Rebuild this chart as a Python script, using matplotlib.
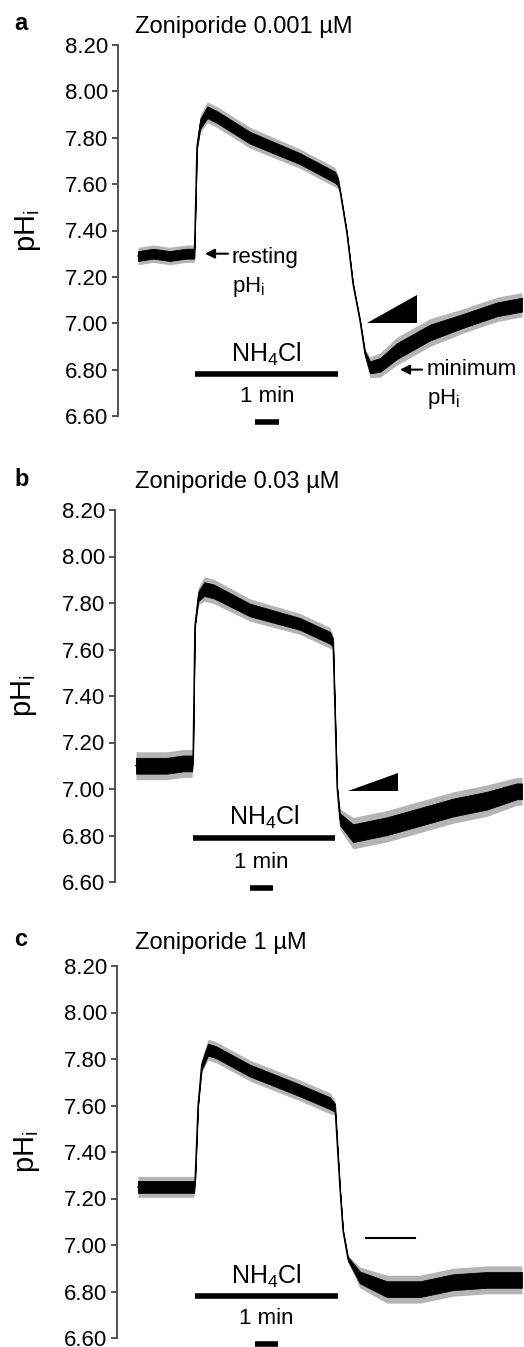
import numpy as np
import matplotlib.pyplot as plt

plt.rcParams['font.family'] = ['Liberation Sans', 'DejaVu Sans']
plt.rcParams['mathtext.fontset'] = 'custom'
plt.rcParams['mathtext.rm'] = 'Liberation Sans'
plt.rcParams['mathtext.it'] = 'Liberation Sans'

# traces: time (min), mid-line pH, half width of the noise band
a_t = [0.85, 1.5, 2.2, 2.9, 3.25, 3.30, 3.36, 3.50, 3.80, 4.20, 5.62, 7.74, 9.23, 9.36,
       9.45, 9.74, 10.0, 10.3, 10.51, 10.72, 11.15, 11.87, 13.28, 14.68, 16.13, 17.19]
a_ph = [7.29, 7.30, 7.29, 7.30, 7.30, 7.50, 7.76, 7.86, 7.91, 7.89, 7.80, 7.71, 7.63, 7.61,
        7.57, 7.39, 7.17, 7.01, 6.87, 6.81, 6.82, 6.88, 6.96, 7.01, 7.06, 7.08]
a_hw = [0.025, 0.025, 0.025, 0.025, 0.025, 0.004, 0.01, 0.025, 0.03, 0.03, 0.03, 0.028, 0.028, 0.02,
        0.006, 0.005, 0.005, 0.006, 0.012, 0.03, 0.035, 0.04, 0.04, 0.035, 0.035, 0.035]

b_t = [0.89, 1.5, 2.2, 2.9, 3.28, 3.32, 3.40, 3.55, 3.80, 4.20, 5.74, 7.87, 9.15, 9.28,
       9.45, 9.57, 10.13, 11.57, 12.98, 14.38, 15.83, 17.10, 17.32]
b_ph = [7.10, 7.10, 7.10, 7.11, 7.11, 7.12, 7.70, 7.83, 7.86, 7.85, 7.77, 7.71, 7.65, 7.63,
        7.01, 6.87, 6.81, 6.84, 6.88, 6.92, 6.95, 6.99, 6.99]
b_hw = [0.04, 0.04, 0.04, 0.04, 0.04, 0.005, 0.005, 0.025, 0.035, 0.035, 0.032, 0.03, 0.03, 0.02,
        0.005, 0.03, 0.045, 0.045, 0.045, 0.045, 0.045, 0.04, 0.04]

c_t = [0.89, 1.5, 2.2, 2.9, 3.28, 3.32, 3.45, 3.60, 3.87, 4.20, 5.66, 7.66, 9.06, 9.28,
       9.49, 9.62, 9.83, 10.34, 11.49, 12.89, 14.30, 15.74, 17.23]
c_ph = [7.25, 7.25, 7.25, 7.25, 7.25, 7.27, 7.60, 7.77, 7.84, 7.83, 7.75, 7.67, 7.61, 7.59,
        7.24, 7.06, 6.94, 6.86, 6.81, 6.81, 6.84, 6.85, 6.85]
c_hw = [0.03, 0.03, 0.03, 0.03, 0.03, 0.005, 0.005, 0.02, 0.03, 0.03, 0.03, 0.03, 0.03, 0.02,
        0.005, 0.005, 0.01, 0.03, 0.04, 0.04, 0.04, 0.04, 0.04]

titles = ['Zoniporide 0.001 \u00b5M', 'Zoniporide 0.03 \u00b5M', 'Zoniporide 1 \u00b5M']
letters = ['a', 'b', 'c']
yticks = [6.60, 6.80, 7.00, 7.20, 7.40, 7.60, 7.80, 8.00, 8.20]

# NH4Cl bar (start, end, pH) and 1 min scale bar start
nh4_bar = [(3.28, 9.36, 6.78), (3.32, 9.36, 6.79), (3.32, 9.40, 6.78)]
min_bar = [5.83, 5.74, 5.87]
# wedge markers: (t start, t end, base pH, top pH)
wedges = [(10.6, 12.72, 7.00, 7.12), (9.91, 12.04, 6.99, 7.07), None]

W, H = 524, 1347
fig = plt.figure(figsize=(W / 100, H / 100), dpi=100)

# axes boxes in pixels: spine x, top y, bottom y
boxes = [(118, 45, 416), (115, 510, 882), (117, 966, 1338)]
title_y = [27, 482, 943]
pxmin = 23.5

traces = [(a_t, a_ph, a_hw), (b_t, b_ph, b_hw), (c_t, c_ph, c_hw)]
for i, (x0, ytop, ybot) in enumerate(boxes):
    ax = fig.add_axes([x0 / W, 1 - ybot / H, (W - x0) / W, (ybot - ytop) / H])
    t, ph, hw = [np.array(v) for v in traces[i]]
    # faint outer fringe for the noise spikes, solid core
    ax.fill_between(t, ph - 1.5 * hw, ph + 1.5 * hw, color='#777777', alpha=0.55, lw=0)
    ax.fill_between(t, ph - 0.85 * hw, ph + 0.85 * hw, color='black', lw=0.6, edgecolor='black')
    ax.plot(t, ph, color='black', lw=1.0)
    ax.set_xlim(0, (W - x0) / pxmin)
    ax.set_ylim(6.60, 8.20)
    ax.set_xticks([])
    ax.set_yticks(yticks)
    ax.set_yticklabels(['%.2f' % v for v in yticks])
    for s in ['top', 'right', 'bottom']:
        ax.spines[s].set_visible(False)
    ax.spines['left'].set_color('#444444')
    ax.spines['left'].set_linewidth(1.3)
    ax.tick_params(axis='y', labelsize=16, length=4, width=1.3, color='#444444', pad=3)
    ax.set_ylabel(r'pH$_\mathregular{i}$', fontsize=21)
    ax.yaxis.set_label_coords(-0.185, 0.5)
    ax.patch.set_alpha(0)

    s, e, y = nh4_bar[i]
    ax.plot([s, e], [y, y], color='black', lw=4, solid_capstyle='butt', clip_on=False)
    ax.text((s + e) / 2, y + 0.055, r'NH$_\mathregular{4}$Cl', fontsize=18, ha='center', va='baseline')
    ax.plot([min_bar[i], min_bar[i] + 1], [6.575, 6.575], color='black', lw=4,
            solid_capstyle='butt', clip_on=False)
    ax.text(min_bar[i] + 0.5, 6.66, '1 min', fontsize=16, ha='center', va='baseline')

    if wedges[i] is not None:
        ws, we, yb, yt = wedges[i]
        ax.fill([ws, we, we], [yb, yb, yt], color='black', lw=0)

    fig.text(135 / W, 1 - title_y[i] / H, titles[i], fontsize=17, va='center', ha='left')
    fig.text(14 / W, 1 - (title_y[i] - 3) / H, letters[i], fontsize=17, fontweight='bold',
             va='center', ha='left')

    if i == 0:
        ax.annotate('', xy=(3.70, 7.30), xytext=(4.68, 7.30),
                    arrowprops=dict(arrowstyle='-|>', color='black', lw=1.5, mutation_scale=14,
                                    shrinkA=0, shrinkB=0))
        ax.text(4.85, 7.26, 'resting', fontsize=16, va='baseline')
        ax.text(4.85, 7.135, r'pH$_\mathregular{i}$', fontsize=16, va='baseline')
        ax.annotate('', xy=(12.0, 6.80), xytext=(12.94, 6.80),
                    arrowprops=dict(arrowstyle='-|>', color='black', lw=1.5, mutation_scale=14,
                                    shrinkA=0, shrinkB=0))
        ax.text(13.15, 6.775, 'minimum', fontsize=16, va='baseline')
        ax.text(13.15, 6.65, r'pH$_\mathregular{i}$', fontsize=16, va='baseline')
    if i == 2:
        ax.plot([10.6, 12.68], [7.03, 7.03], color='black', lw=1.5)

fig.savefig('out.png', dpi=100)
